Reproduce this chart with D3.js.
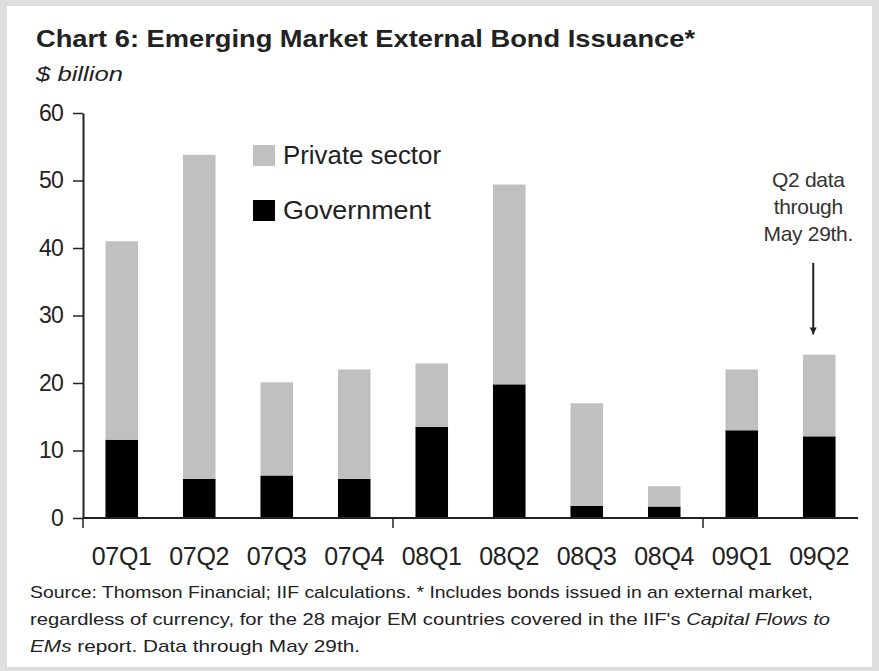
<!DOCTYPE html>
<html lang="en">
<head>
<meta charset="UTF-8">
<title>Chart 6: Emerging Market External Bond Issuance</title>
<script src="https://cdn.jsdelivr.net/npm/d3@7/dist/d3.min.js"></script>
<style>
    body { margin: 0; background: #dedede; }
    svg { display: block; font-family: 'Liberation Sans', Arial, sans-serif; }
    .axis path, .axis line { stroke: #222; }
</style>
</head>
<body>
<script>
    // canvas size
    const width = 879;
    const height = 671;

    // data ($ billion)
    const quarters = ['07Q1', '07Q2', '07Q3', '07Q4', '08Q1', '08Q2', '08Q3', '08Q4', '09Q1', '09Q2'];
    const government = [11.6, 5.8, 6.3, 5.8, 13.5, 19.8, 1.8, 1.7, 13.0, 12.1];
    const privateSector = [29.4, 48.0, 13.8, 16.2, 9.4, 29.6, 15.2, 3.0, 9.0, 12.1];
    const yTicks = [0, 10, 20, 30, 40, 50, 60];
    const yearStarts = ['07Q1', '08Q1', '09Q1'];

    const footnote = [
        [{ t: 'Source: Thomson Financial; IIF calculations. * Includes bonds issued in an external market,' }],
        [{ t: 'regardless of currency, for the 28 major EM countries covered in the IIF\'s ' },
         { t: 'Capital Flows to', i: true }],
        [{ t: 'EMs', i: true }, { t: ' report. Data through May 29th.' }]
    ];

    const svg = d3.select('body')
        .append('svg')
        .attr('width', width)
        .attr('height', height);

    // white panel inside the grey frame
    svg.append('rect')
        .attr('x', 7).attr('y', 6)
        .attr('width', 865).attr('height', 661)
        .attr('fill', '#fff');

    const rows = quarters.map((q, i) => ({ q: q, gov: government[i], priv: privateSector[i] }));
    const series = d3.stack().keys(['gov', 'priv'])(rows);

    const x = d3.scaleBand()
        .domain(quarters)
        .range([83, 858])
        .paddingInner(0.58)
        .paddingOuter(0.29);

    const y = d3.scaleLinear()
        .domain([0, 60])
        .range([518, 113]);

    const colors = { gov: '#000', priv: '#c0c0c0' };

    // bars
    svg.append('g')
        .selectAll('g')
        .data(series)
        .join('g')
        .attr('fill', d => colors[d.key])
        .selectAll('rect')
        .data(d => d)
        .join('rect')
        .attr('x', d => x(d.data.q))
        .attr('y', d => y(d[1]))
        .attr('width', x.bandwidth())
        .attr('height', d => y(d[0]) - y(d[1]));

    // y axis
    const yAxis = svg.append('g')
        .attr('class', 'axis')
        .attr('transform', 'translate(83,0)')
        .call(d3.axisLeft(y).tickValues(yTicks).tickSize(10).tickPadding(10).tickSizeOuter(0));
    yAxis.select('.domain').attr('stroke-width', 2);
    yAxis.selectAll('line').attr('stroke-width', 1.5);
    yAxis.selectAll('text')
        .attr('font-size', 23)
        .attr('fill', '#222')
        .attr('font-family', 'Liberation Sans, Arial, sans-serif')
        .attr('letter-spacing', -0.8);

    // x axis: line plus year separator ticks
    const step = x.step();
    svg.append('line')
        .attr('x1', x.range()[0]).attr('x2', x.range()[1])
        .attr('y1', y(0)).attr('y2', y(0))
        .attr('stroke', '#222').attr('stroke-width', 2);
    svg.append('g')
        .selectAll('line')
        .data(yearStarts)
        .join('line')
        .attr('x1', d => x(d) - step * x.paddingInner() / 2)
        .attr('x2', d => x(d) - step * x.paddingInner() / 2)
        .attr('y1', y(0))
        .attr('y2', y(0) + 10)
        .attr('stroke', '#222')
        .attr('stroke-width', 1.5);

    svg.append('g')
        .selectAll('text')
        .data(quarters)
        .join('text')
        .attr('x', d => x(d) + x.bandwidth() / 2)
        .attr('y', 565)
        .attr('text-anchor', 'middle')
        .attr('font-size', 25)
        .attr('letter-spacing', -0.3)
        .attr('fill', '#222')
        .text(d => d);

    // legend
    const legend = svg.append('g').attr('transform', 'translate(253,145)');
    const legendItems = [
        { key: 'priv', label: 'Private sector', w: 158 },
        { key: 'gov', label: 'Government', w: 148 }
    ];
    legendItems.forEach((it, i) => {
        const g = legend.append('g').attr('transform', 'translate(0,' + i * 55 + ')');
        g.append('rect')
            .attr('width', 22).attr('height', 21)
            .attr('fill', colors[it.key]);
        g.append('text')
            .attr('x', 30).attr('y', 19)
            .attr('font-size', 25)
            .attr('fill', '#222')
            .attr('textLength', it.w)
            .attr('lengthAdjust', 'spacingAndGlyphs')
            .text(it.label);
    });

    // annotation for the last quarter
    const last = quarters[quarters.length - 1];
    const ax = x(last) + x.bandwidth() / 2 - 6;
    const note = ['Q2 data', 'through', 'May 29th.'];
    svg.append('g')
        .selectAll('text')
        .data(note)
        .join('text')
        .attr('x', ax - 5)
        .attr('y', (d, i) => 187 + i * 27)
        .attr('text-anchor', 'middle')
        .attr('font-size', 21)
        .attr('letter-spacing', -0.3)
        .attr('fill', '#333')
        .text(d => d);

    svg.append('defs').append('marker')
        .attr('id', 'head')
        .attr('viewBox', '0 0 10 10')
        .attr('refX', 10).attr('refY', 5)
        .attr('markerWidth', 7).attr('markerHeight', 10)
        .attr('markerUnits', 'userSpaceOnUse')
        .attr('orient', 'auto')
        .append('path')
        .attr('d', 'M0,0 L10,5 L0,10 Z')
        .attr('fill', '#222');
    svg.append('line')
        .attr('x1', ax).attr('x2', ax)
        .attr('y1', y(37.8)).attr('y2', y(27.2))
        .attr('stroke', '#222').attr('stroke-width', 2)
        .attr('marker-end', 'url(#head)');

    // title and unit
    svg.append('text')
        .attr('x', 36).attr('y', 47)
        .attr('font-size', 24)
        .attr('font-weight', 'bold')
        .attr('fill', '#222')
        .attr('textLength', 659)
        .attr('lengthAdjust', 'spacingAndGlyphs')
        .text('Chart 6: Emerging Market External Bond Issuance*');

    svg.append('text')
        .attr('x', 36).attr('y', 81)
        .attr('font-size', 21)
        .attr('font-style', 'italic')
        .attr('fill', '#222')
        .attr('textLength', 87)
        .attr('lengthAdjust', 'spacingAndGlyphs')
        .text('$ billion');

    // footnote
    const lineWidths = [783, 800, 330];
    footnote.forEach((parts, i) => {
        const t = svg.append('text')
            .attr('x', 30)
            .attr('y', 598 + i * 27)
            .attr('font-size', 17)
            .attr('fill', '#222')
            .attr('textLength', lineWidths[i])
            .attr('lengthAdjust', 'spacingAndGlyphs');
        parts.forEach(p => {
            t.append('tspan')
                .attr('font-style', p.i ? 'italic' : null)
                .text(p.t);
        });
    });
</script>
</body>
</html>
